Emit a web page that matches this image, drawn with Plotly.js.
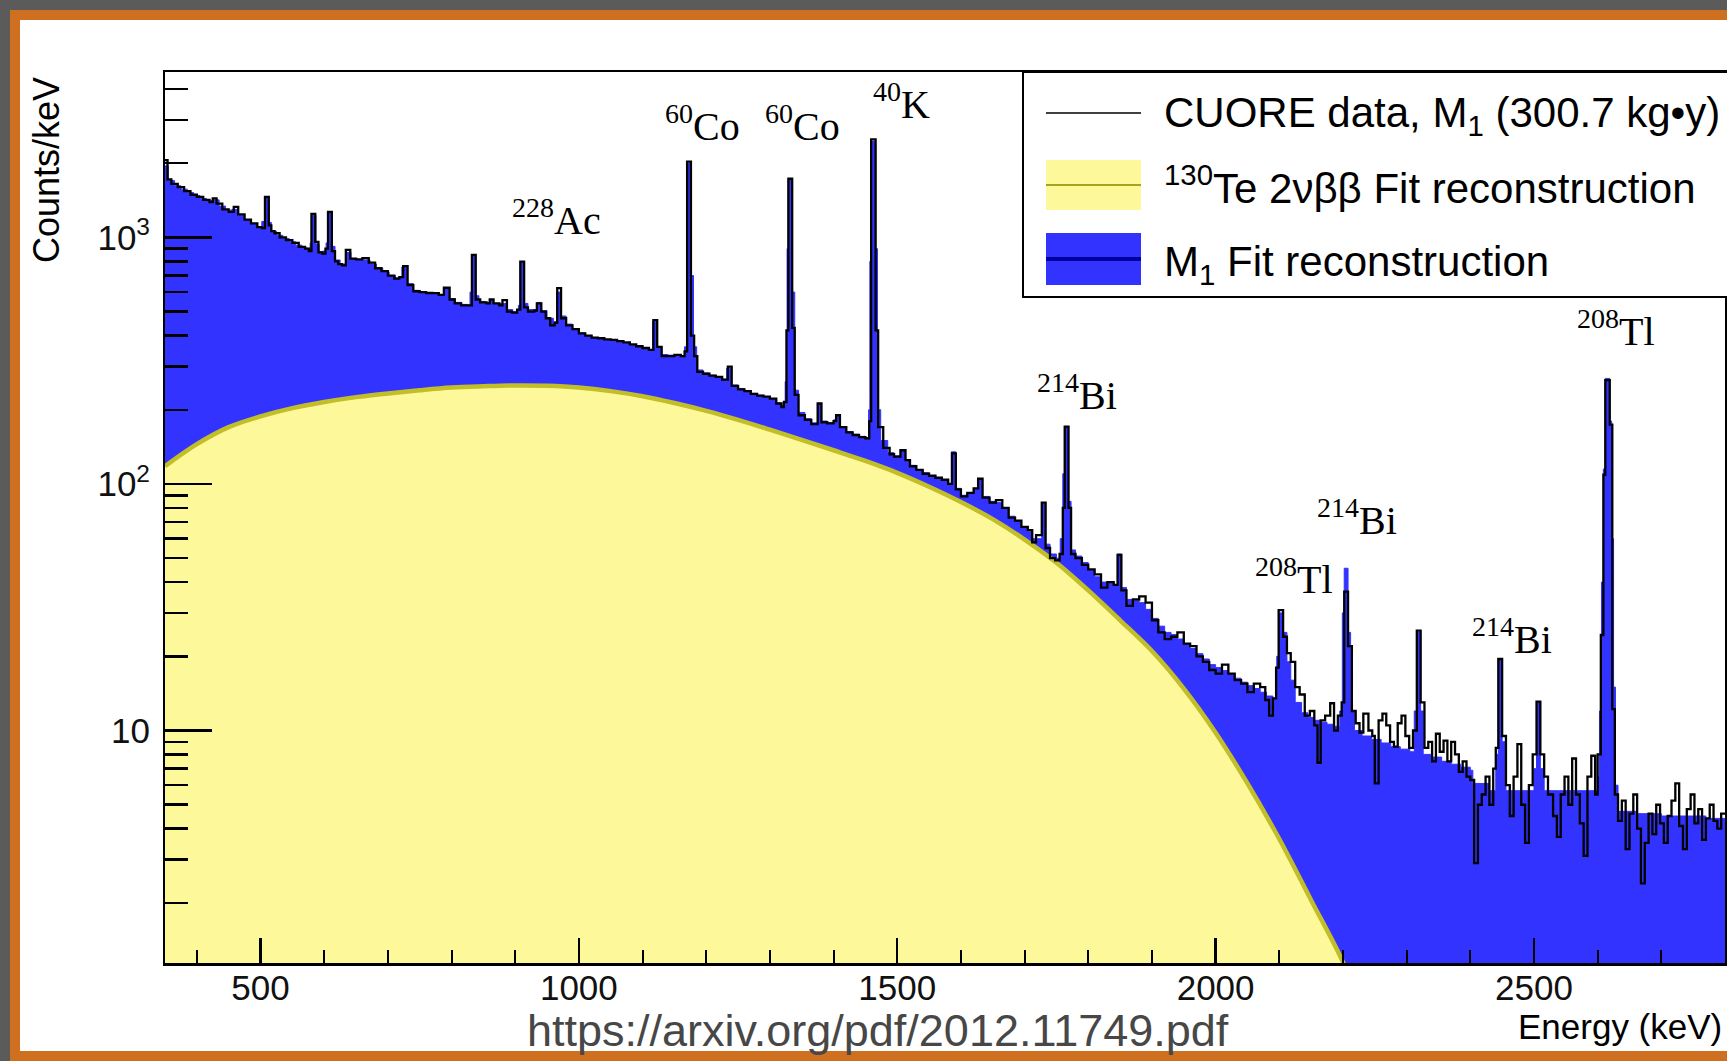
<!DOCTYPE html>
<html><head><meta charset="utf-8">
<script src="https://cdn.plot.ly/plotly-3.0.1.min.js"></script>
<style>
html,body{margin:0;padding:0;width:1727px;height:1061px;overflow:hidden;background:#5b5b5b;}
#frame{position:absolute;left:10px;top:10px;width:1760px;height:1031px;border:10px solid #cf6f20;background:#fff;}
#chart{position:absolute;left:0;top:0;width:1727px;height:1061px;}
</style></head><body>
<div id="frame"></div><div id="chart"></div>
<script>
// ---- CUORE M1 data (step histogram, bin low edge in keV, counts/keV) ----
const dataEnergy = [350,354,360,370,380,390,400,410,420,425,431,440,450,458,465,475,485,495,502,507,513,517,522,530,540,550,560,570,576,580,586,591,597,602,606,612,617,622,628,634,641,650,660,670,680,690,700,710,718,724,731,740,750,760,770,780,788,797,805,815,825,832,838,845,855,860,866,875,880,887,895,903,908,914,920,930,934,941,948,955,962,966,972,980,990,1000,1010,1020,1030,1040,1050,1060,1070,1080,1090,1100,1110,1117,1123,1130,1140,1150,1160,1166,1170,1176,1181,1186,1195,1205,1215,1225,1234,1240,1250,1260,1270,1280,1290,1300,1310,1318,1322,1326,1329,1335,1339,1345,1355,1365,1375,1381,1390,1400,1404,1410,1420,1430,1440,1450,1456,1459,1466,1470,1478,1488,1495,1505,1513,1520,1530,1540,1550,1560,1570,1580,1586,1592,1600,1610,1620,1627,1634,1645,1655,1665,1675,1685,1695,1705,1712,1718,1727,1733,1740,1748,1755,1760,1763,1769,1773,1780,1790,1800,1810,1820,1830,1840,1846,1852,1860,1870,1880,1890,1900,1910,1920,1930,1940,1950,1960,1970,1980,1990,2000,2010,2020,2030,2040,2050,2060,2070,2078,2084,2090,2095,2099,2106,2112,2118,2125,2132,2140,2148,2155,2160,2165,2172,2180,2186,2192,2198,2202,2208,2214,2220,2226,2232,2240,2246,2250,2256,2262,2268,2274,2280,2286,2292,2298,2304,2310,2316,2322,2328,2334,2340,2346,2352,2358,2364,2370,2376,2382,2388,2394,2400,2406,2412,2418,2424,2430,2436,2440,2444,2450,2456,2462,2468,2474,2480,2486,2492,2498,2504,2510,2516,2522,2530,2536,2542,2548,2554,2560,2566,2572,2578,2584,2590,2596,2600,2605,2609,2612,2619,2623,2627,2632,2638,2644,2650,2656,2662,2668,2674,2680,2686,2692,2698,2704,2710,2716,2722,2728,2734,2740,2746,2752,2758,2764,2770,2776,2782,2788,2794,2800];
const dataCounts = [2060,1720,1650,1600,1540,1490,1460,1420,1390,1440,1370,1300,1270,1330,1240,1180,1140,1100,1090,1460,1120,1060,1040,1000,975,950,915,900,880,1245,960,870,860,900,1270,880,800,780,770,890,820,815,825,790,750,730,700,680,690,765,640,605,600,595,594,585,625,560,540,530,530,849,560,545,540,560,540,530,557,500,495,510,798,520,500,505,540,500,470,440,450,623,470,440,425,408,400,392,390,386,384,380,375,368,362,356,350,462,360,330,330,334,330,345,2030,400,330,285,280,275,272,265,299,250,242,238,232,228,226,222,212,205,215,420,1730,430,230,190,182,175,212,178,176,180,190,170,162,158,155,153,180,2500,420,170,140,132,129,137,125,118,114,110,108,106,104,100,133,95,89,92,96,105,88,84,86,80,73,71,67,65,58,62,84,55,50,49,52,80,171,80,52,50,47,45,43,38,40,39,51.5,37,32,34,35,33,28,25,23.5,24,25,22.5,22,20,19,17.6,17,18.5,17,16,15.5,14.3,15.5,15,13.3,11.5,13.5,18,30.8,24,20.6,19,15,14,11.5,12,10.5,7.4,11,11.5,12.9,10,11.5,13,36.6,22,12,10.7,9.8,11.7,10,9.5,6.1,11,11.7,10.5,9,8.6,10.7,11.5,9.5,8.5,10,25.4,13,8.5,9,7.5,9.7,8.2,9.1,7.5,9,8,6.8,7.5,6.5,6.3,2.9,5,5.5,6.5,5,7,8.5,19.5,9.5,6,4.5,6.5,8.8,5,3.5,6,8,13.1,8,6.5,5.5,4.5,3.7,5.5,6.5,5,7.7,5.5,4.2,3.1,6.5,7.9,5.5,8,24.4,109,264,174,12.2,5.5,4.3,5.2,3.3,4.6,5.5,4,2.4,3.5,4.6,3.8,5,4.2,3.5,4.5,5.2,6.1,4.1,3.3,4.8,5.5,4.2,4.8,3.6,4.4,5,4.3,4,4.6,4.6];

// ---- M1 fit reconstruction (total model) ----
const modelEnergy = [350,355,365,375,385,395,405,415,425,435,445,455,465,475,485,495,502,507,513,517,525,535,545,555,565,575,578,581,587,592,598,603,606,612,617,625,635,642,652,662,672,682,692,702,712,722,730,740,750,760,770,780,788,796,806,816,826,829,832,838,843,853,860,866,876,886,896,905,908,914,920,930,934,941,950,960,965,972,980,990,1000,1010,1020,1030,1040,1050,1060,1070,1080,1090,1100,1110,1116,1123,1130,1140,1150,1160,1166,1169,1171,1176,1180,1185,1195,1205,1215,1225,1232,1240,1250,1260,1270,1280,1290,1300,1310,1318,1324,1327,1329,1335,1339,1345,1355,1365,1375,1381,1390,1400,1403,1410,1420,1430,1440,1450,1455,1457,1459,1466,1469,1474,1485,1495,1505,1513,1520,1530,1540,1550,1560,1570,1580,1585,1592,1600,1610,1620,1627,1634,1645,1655,1665,1675,1685,1695,1705,1712,1720,1727,1733,1740,1750,1756,1760,1763,1769,1773,1780,1790,1800,1810,1820,1830,1840,1846,1852,1860,1870,1880,1890,1900,1910,1920,1930,1940,1950,1960,1970,1980,1990,2000,2010,2020,2030,2040,2050,2060,2070,2080,2090,2096,2099,2106,2112,2118,2125,2135,2145,2155,2165,2175,2185,2195,2199,2202,2208,2212,2218,2230,2245,2260,2275,2290,2305,2312,2316,2322,2326,2340,2355,2370,2385,2400,2404,2430,2440,2444,2450,2456,2480,2500,2504,2510,2516,2540,2560,2580,2600,2603,2606,2609,2612,2619,2622,2625,2628,2632,2660,2700,2740,2770,2800];
const modelCounts = [1950,1700,1620,1570,1520,1480,1440,1410,1420,1340,1290,1300,1230,1180,1140,1100,1160,1450,1150,1060,1020,990,960,930,905,890,950,1230,940,875,880,950,1260,920,810,780,870,820,810,810,780,750,725,700,685,760,650,610,600,595,590,585,620,565,545,535,530,600,840,580,550,545,555,540,540,510,500,530,790,540,510,510,545,505,470,455,600,480,445,425,410,400,393,389,385,382,378,373,367,361,355,350,455,360,335,333,333,332,360,1300,2000,700,360,290,282,276,272,266,295,252,244,238,233,229,225,220,213,208,260,900,1720,600,240,195,184,177,210,180,177,182,188,170,163,159,156,154,200,800,2450,900,200,150,134,130,136,125,119,114,111,108,106,103,100,135,96,90,92,96,104,89,85,84,80,74,71,67,64,60,60,83,57,52,50,60,110,170,85,54,51,48,45,42,40,39.5,39,52,38,34,33.5,33,31,28.5,26.5,25,24.5,23.5,22.5,21.5,20.5,19.5,18.5,18,17.5,17,16.3,15.7,15.2,14.8,14.3,13.8,13.5,20,30,25,19,16,13,11.8,11.3,11,10.8,10.6,10.4,12,30,45.5,25,12,10,9.5,9.2,8.9,8.6,8.4,8.2,12,25,12,8,7.8,7.5,7.3,7.1,6.9,6.1,5.7,8,19.5,9,5.7,5.7,7,13,7,5.7,5.7,5.7,5.7,6.5,12,40,115,268,180,60,15,6,4.7,4.6,4.5,4.5,4.4,4.4];

// ---- 130Te 2vbb fit reconstruction ----
const teEnergy = [350,400,450,500,550,600,650,700,750,800,850,900,950,1000,1050,1100,1150,1200,1250,1300,1350,1400,1450,1500,1550,1600,1650,1700,1750,1800,1850,1900,1950,2000,2050,2100,2150,2200,2250,2300,2350,2400];
const teCounts = [118,145,170,188,203,215,225,233,240,246,249,251,250,246,238,227,213,198,182,166,151,137,124,111,97.5,84.5,72,59.5,47.9,37,28,21,14.8,9.8,6.1,3.63,2.05,1.15,0.55,0.2,0.07,0.02];

// ---- peak labels ----
const peakMass   = ['228','60','60','40','214','214','208','214','208'];
const peakSymbol = ['Ac','Co','Co','K','Bi','Bi','Tl','Bi','Tl'];
const peakLabelE = [892,1132,1289,1458,1716,2156,2058,2400,2565];
const peakLabelV = [1200,2910,2910,3550,234,73,42,24,426];

const xTickVals = [500,1000,1500,2000,2500];
const yTickVals = [10,100,1000];
const yTickText = ['10','10<sup>2</sup>','10<sup>3</sup>'];
const yMinorVals = [2,3,4,5,6,7,8,9,20,30,40,50,60,70,80,90,200,300,400,500,600,700,800,900,2000,3000,4000];

const legendText = ['CUORE data, M<sub>1</sub> (300.7 kg\u2022y)','<sup>130</sup>Te 2\u03bd\u03b2\u03b2 Fit reconstruction','M<sub>1</sub> Fit reconstruction'];

// pixel -> paper helpers
const L=165, R=1725, T=72, B=963;
const px = X => (X-L)/(R-L);
const py = Y => (B-Y)/(B-T);

const BLUE='#3333ff', YEL='#fdf99b', YEDGE='#c2be28';
const sans='Liberation Sans, Arial, Helvetica, sans-serif';
const serif='Liberation Serif, Times New Roman, serif';

const traces = [
  {x:modelEnergy, y:modelCounts, type:'scatter', mode:'lines', line:{shape:'hv', color:BLUE, width:1}, fill:'tozeroy', fillcolor:BLUE, name:'M1 Fit reconstruction', hoverinfo:'skip'},
  {x:teEnergy, y:teCounts, type:'scatter', mode:'lines', line:{shape:'spline', smoothing:1, color:YEDGE, width:4.5}, fill:'tozeroy', fillcolor:YEL, name:'130Te 2vbb', hoverinfo:'skip'},
  {x:dataEnergy, y:dataCounts, type:'scatter', mode:'lines', line:{shape:'hv', color:'#000', width:2.3}, name:'CUORE data', hoverinfo:'skip'}
];

const annotations = [];
for (let i=0;i<peakMass.length;i++){
  annotations.push({xref:'x', yref:'y', x:peakLabelE[i], y:Math.log10(peakLabelV[i]), xanchor:'left', yanchor:'middle', showarrow:false,
    text:'<sup>'+peakMass[i]+'</sup>'+peakSymbol[i], font:{family:serif, size:40, color:'#000'}});
}
annotations.push({xref:'paper', yref:'paper', x:px(46), y:py(170), text:'Counts/keV', textangle:-90, showarrow:false, xanchor:'center', yanchor:'middle', font:{family:sans, size:36, color:'#000'}});
annotations.push({xref:'paper', yref:'paper', x:px(1724), y:py(1026), text:'Energy (keV)', showarrow:false, xanchor:'right', yanchor:'middle', font:{family:sans, size:35, color:'#000'}});
annotations.push({xref:'paper', yref:'paper', x:px(878), y:py(1030), text:'https://arxiv.org/pdf/2012.11749.pdf', showarrow:false, xanchor:'center', yanchor:'middle', font:{family:sans, size:45, color:'#474747'}});
const legY=[115,185,264];
for (let i=0;i<3;i++){
  annotations.push({xref:'paper', yref:'paper', x:px(1162), y:py(legY[i]), text:legendText[i], showarrow:false, xanchor:'left', yanchor:'middle', font:{family:sans, size:42, color:'#000'}});
}

const shapes = [
  {type:'rect', xref:'paper', yref:'paper', x0:px(1023), x1:px(1740), y0:py(72), y1:py(297), line:{color:'#000', width:2}, fillcolor:'#fff', layer:'above'},
  {type:'line', xref:'paper', yref:'paper', x0:px(1046), x1:px(1141), y0:py(113), y1:py(113), line:{color:'#000', width:1.5}},
  {type:'rect', xref:'paper', yref:'paper', x0:px(1046), x1:px(1141), y0:py(160), y1:py(210), line:{width:0}, fillcolor:YEL},
  {type:'line', xref:'paper', yref:'paper', x0:px(1046), x1:px(1141), y0:py(185), y1:py(185), line:{color:'#a6a41e', width:2}},
  {type:'rect', xref:'paper', yref:'paper', x0:px(1046), x1:px(1141), y0:py(233), y1:py(285), line:{width:0}, fillcolor:BLUE},
  {type:'line', xref:'paper', yref:'paper', x0:px(1046), x1:px(1141), y0:py(259), y1:py(259), line:{color:'#0000a0', width:4}}
];

const layout = {
  width:1727, height:1061,
  margin:{l:L, r:1727-R, t:T, b:1061-B, pad:0},
  paper_bgcolor:'rgba(0,0,0,0)', plot_bgcolor:'#fff',
  showlegend:false,
  xaxis:{range:[350,2800], showline:true, linecolor:'#000', linewidth:2.5, mirror:true, showgrid:false, zeroline:false,
    ticks:'inside', ticklen:25, tickwidth:2.5, tickcolor:'#000', tickvals:xTickVals, ticktext:xTickVals.map(String),
    tickfont:{family:sans, size:35, color:'#111'}, ticklabelstandoff:-8,
    minor:{ticks:'inside', ticklen:13, tickwidth:2, tickcolor:'#000', dtick:100, tick0:0, showgrid:false}},
  yaxis:{type:'log', range:[0.057,3.671], showline:true, linecolor:'#000', linewidth:2, mirror:true, showgrid:false, zeroline:false,
    ticks:'inside', ticklen:47, tickwidth:2.5, tickcolor:'#000', tickvals:yTickVals, ticktext:yTickText,
    tickfont:{family:sans, size:35, color:'#111'}, ticklabelstandoff:6,
    minor:{ticks:'inside', ticklen:23, tickwidth:2.5, tickcolor:'#000', tickvals:yMinorVals, showgrid:false}},
  annotations:annotations,
  shapes:shapes
};

Plotly.newPlot('chart', traces, layout, {staticPlot:true, displayModeBar:false});
</script></body></html>
